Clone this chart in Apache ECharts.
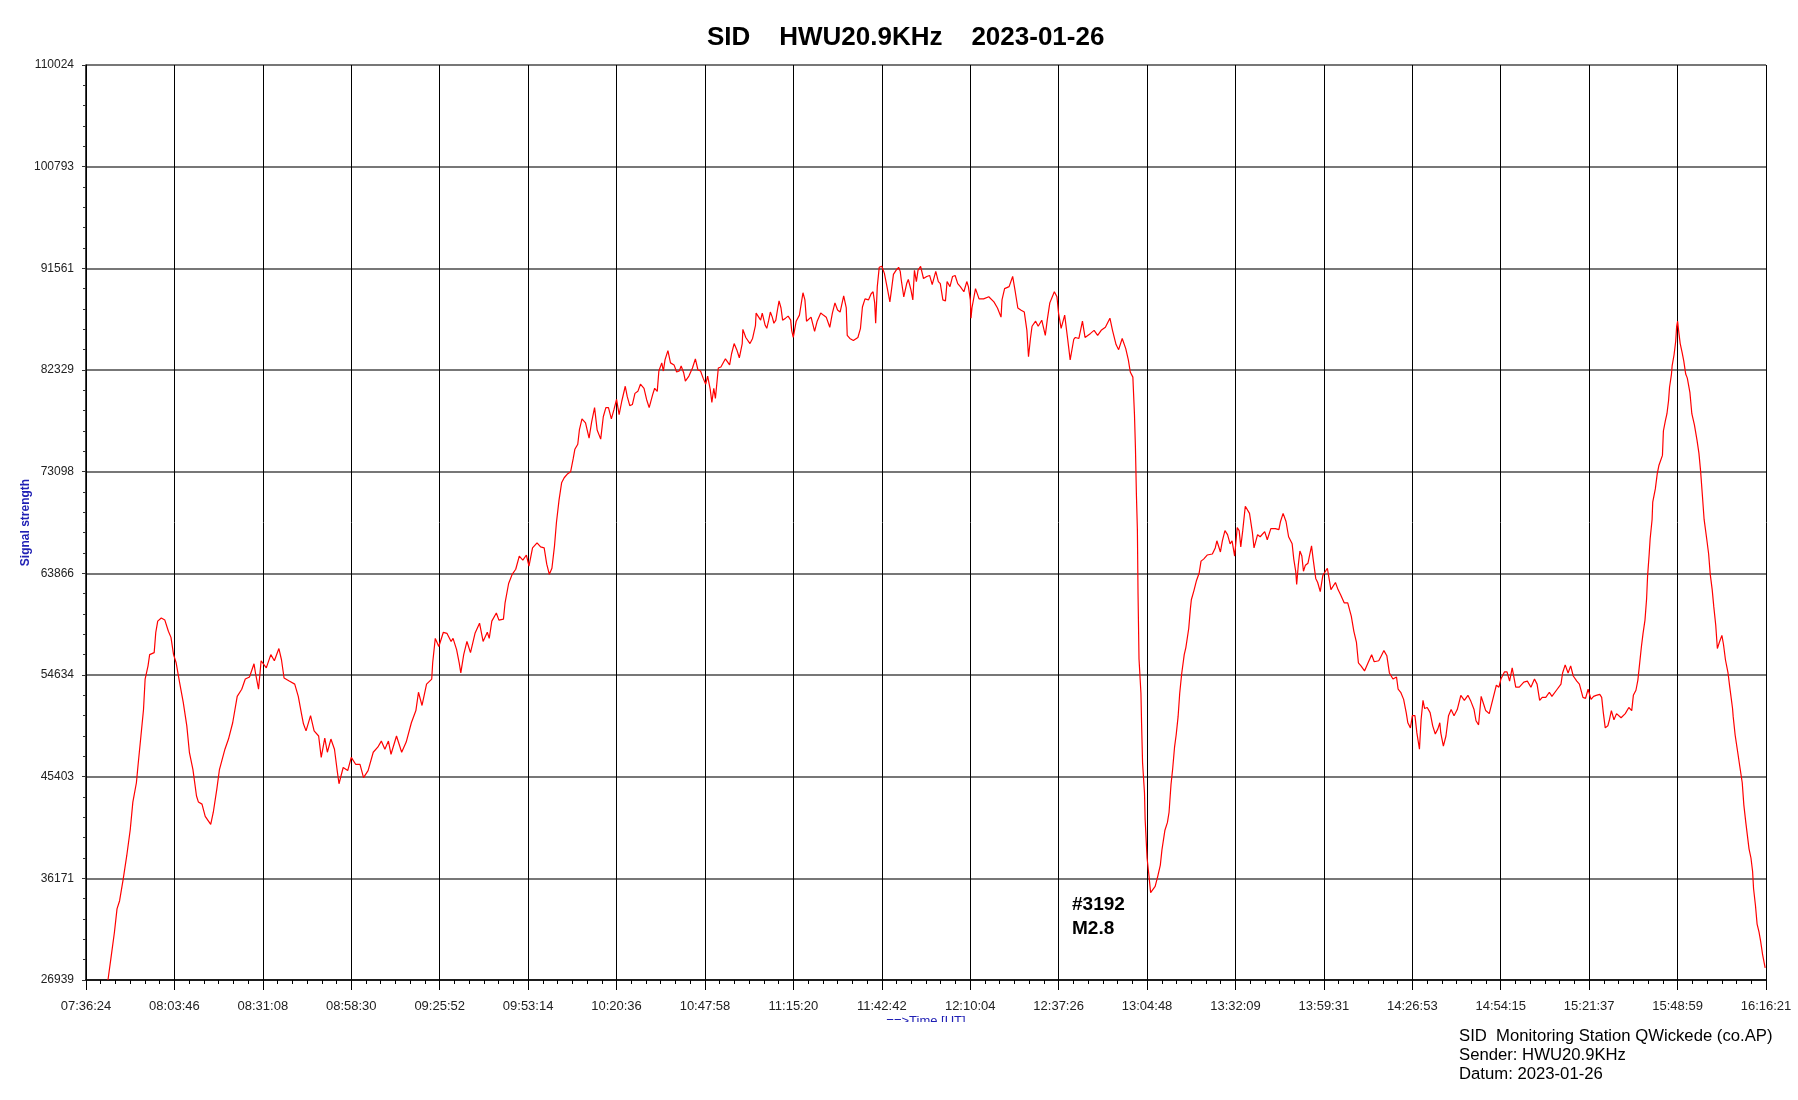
<!DOCTYPE html>
<html>
<head>
<meta charset="utf-8">
<script src="https://cdn.jsdelivr.net/npm/echarts@6/dist/echarts.min.js"></script>
<style>
html,body{margin:0;padding:0;background:#fff;}
#chart{width:1798px;height:1100px;}
</style>
</head>
<body>
<div id="chart"></div>
<script>
// Time axis tick labels (UT)
const xLabels = ['07:36:24','08:03:46','08:31:08','08:58:30','09:25:52','09:53:14','10:20:36','10:47:58','11:15:20','11:42:42','12:10:04','12:37:26','13:04:48','13:32:09','13:59:31','14:26:53','14:54:15','15:21:37','15:48:59','16:16:21'];
// Signal strength tick labels
const yLabels = ['26939','36171','45403','54634','63866','73098','82329','91561','100793','110024'];
const yMin = 26939;
const yMax = 110024;
const xStep = 27.366; // minutes between time ticks (27m22s)

// minutes after 07:36:24 UT
const timeMin = [
6.8,7.7,8.8,9.6,10.4,11.5,12.6,13.7,14.5,15.6,16.1,17.0,17.8,18.3,19.2,19.7,21.1,21.6,22.2,23.3,
24.4,25.5,26.3,27.1,27.9,29.0,30.1,31.2,32.0,33.1,34.2,34.8,35.9,36.9,38.6,39.4,40.5,41.3,43.0,44.1,
45.4,46.8,48.2,49.3,50.6,52.0,52.5,53.4,54.2,55.8,57.2,58.3,59.7,60.5,61.3,62.9,64.6,65.7,66.8,67.3,
68.1,69.5,70.6,72.0,72.8,73.9,74.7,75.8,76.9,77.7,78.3,79.6,81.0,82.1,83.5,84.8,85.9,87.3,88.9,90.3,
91.4,92.5,93.6,94.4,96.1,97.7,99.1,100.7,102.1,102.9,104.0,105.4,107.0,107.3,108.1,109.2,110.6,111.7,113.0,113.6,
114.7,115.5,116.0,116.9,117.9,119.0,120.4,121.8,122.9,124.2,124.8,125.6,127.0,127.8,129.2,129.7,130.8,131.9,133.0,134.1,
135.2,136.3,137.1,138.2,139.6,140.7,141.8,142.6,143.4,144.2,145.0,145.6,146.4,147.2,148.0,149.1,150.0,150.8,151.3,152.2,
152.7,153.5,154.6,155.7,156.5,157.4,158.2,159.3,160.1,160.9,161.7,162.6,163.4,164.2,165.0,165.8,166.9,167.5,168.3,169.1,
169.9,170.8,171.6,172.7,173.5,174.3,175.4,176.0,176.8,177.3,178.2,178.7,179.2,180.1,180.9,182.0,182.8,183.6,184.2,185.0,
185.5,186.6,187.7,188.6,189.4,190.2,191.0,191.8,192.4,193.2,193.7,194.3,194.8,195.7,196.5,197.9,199.2,199.8,200.6,201.4,
202.2,203.1,203.3,204.2,204.7,205.5,206.3,207.2,207.4,208.0,208.8,209.3,210.2,210.7,211.3,211.8,212.4,212.9,213.5,214.0,
214.5,215.1,215.6,216.5,217.3,218.1,218.4,218.9,219.8,220.8,221.4,221.9,222.5,223.0,224.4,225.5,226.3,227.4,228.2,229.1,
230.2,231.0,231.8,232.6,233.4,234.5,235.3,235.6,236.4,237.5,238.9,239.7,240.3,241.1,242.2,243.0,243.6,244.1,244.4,244.9,
245.5,246.3,247.1,247.9,248.8,249.3,249.9,250.7,251.5,252.0,252.3,253.1,254.0,254.5,255.3,255.9,256.4,257.0,257.5,258.3,
259.2,260.2,261.1,261.9,263.0,263.8,264.4,265.2,266.0,266.5,267.4,268.2,269.0,269.8,270.6,271.7,272.6,273.1,273.7,273.9,
274.2,275.3,276.4,277.8,279.4,281.0,282.1,283.2,283.5,284.3,285.7,286.8,287.6,288.4,289.3,290.4,291.2,291.7,292.3,292.8,
293.9,294.7,295.8,296.9,297.5,298.3,299.7,300.5,301.0,301.8,302.9,303.8,304.6,305.7,306.2,307.3,308.4,309.2,310.9,312.0,
313.1,314.2,315.5,316.9,317.7,318.8,319.6,320.7,321.8,322.6,323.2,324.0,324.5,324.8,325.1,325.4,325.6,325.9,326.5,326.7,
327.0,327.6,327.8,328.1,328.4,328.9,329.5,330.0,330.9,331.7,332.5,333.0,333.9,334.7,335.2,335.8,336.3,336.9,337.4,338.0,
338.5,339.1,339.9,340.4,341.3,341.8,342.1,342.9,343.7,344.5,345.1,345.9,347.0,348.6,349.5,350.0,351.1,351.7,352.5,353.3,
354.1,354.7,355.5,356.3,356.9,357.4,358.0,358.8,359.3,360.1,361.0,361.5,362.6,363.4,364.8,365.6,366.7,368.1,369.2,369.7,
370.5,371.4,372.2,373.3,373.8,374.4,374.7,375.2,375.7,376.3,376.8,377.4,378.2,379.3,379.8,380.6,381.2,382.0,382.8,384.2,
385.3,386.7,387.5,388.3,389.4,390.5,391.6,392.4,393.2,393.8,394.6,395.7,396.8,397.9,398.7,400.1,400.9,401.7,402.6,403.4,
404.5,405.6,406.1,406.9,407.8,408.6,409.1,409.9,410.5,411.3,411.9,412.7,413.2,413.8,414.3,415.1,416.0,416.8,417.6,418.4,
419.0,419.3,420.1,420.9,421.7,422.5,423.4,424.4,425.5,426.6,427.7,428.5,429.6,430.2,431.0,431.8,432.6,433.2,434.3,435.4,
436.5,437.3,437.9,439.0,439.8,440.6,441.4,442.5,443.6,445.0,446.1,447.2,448.3,449.1,449.9,450.7,451.8,452.9,453.7,455.1,
456.5,457.0,457.8,458.7,459.5,460.3,461.4,462.2,463.3,464.1,464.9,465.8,466.6,467.4,468.5,469.1,469.6,470.2,471.0,471.5,
472.1,472.9,473.7,475.1,476.4,477.5,478.4,478.9,479.7,480.3,480.8,481.4,481.9,482.5,483.0,483.3,483.8,484.1,484.7,484.9,
485.7,486.3,486.8,487.4,487.9,488.2,488.8,489.3,489.8,490.1,490.7,490.9,491.5,492.0,492.3,492.6,492.9,493.4,494.0,494.5,
495.1,495.6,496.4,497.0,497.8,498.6,499.2,499.7,500.3,500.8,501.6,502.2,502.7,503.3,503.8,504.4,504.9,505.5,506.3,506.8,
507.4,508.2,508.7,509.6,509.8,510.4,511.2,511.8,512.6,513.1,513.7,514.2,514.7,515.3,515.8,516.1,516.7,517.2,517.8,518.3,
518.9,519.7
];

// signal strength
const signal = [
26939,28878,31278,33401,34140,36079,38202,40602,43095,44849,46419,49096,51496,54266,55465,56480,56665,58511,59527,59804,
59619,58604,58050,56480,55742,53896,52142,50019,47619,46049,43649,43095,42910,41802,41064,42172,44295,46049,47896,48819,
50296,52696,53342,54266,54450,55650,54726,53342,55926,55280,56480,55926,57034,56019,54358,54081,53804,52696,50942,50203,
49557,50942,49557,49096,47157,48911,47619,48819,47896,46049,44757,46234,45957,47157,46511,46511,45311,45957,47619,48080,
48634,47896,48634,47434,49096,47619,48542,50296,51404,53065,51865,53804,54266,55742,57957,57219,58511,58419,57680,57957,
56942,55742,54819,56480,57680,56665,58419,59342,57680,58511,57957,59527,60265,59619,59711,61189,62943,63774,64235,65435,
65066,65528,64512,66174,66636,66266,66174,64697,63774,64328,66359,68482,70513,72082,72544,72913,73098,74298,75129,75591,
76883,77898,77529,76144,77622,78914,76883,76052,78083,78914,78914,77898,78729,79653,78268,79468,80853,79930,79099,79191,
80207,80391,81037,80668,79653,78914,80114,80668,80391,82237,82975,82237,83252,84083,82975,82791,82145,82237,82698,82052,
81314,81775,82514,83345,82329,82237,81591,81037,81775,80576,79376,80668,79745,82514,82606,83345,82791,83806,84729,84175,
83437,84729,86022,85283,85191,84729,85191,86391,87499,87591,86853,87499,86391,86114,86853,87591,87129,86576,86853,87776,
88607,87960,86853,87037,87222,86853,85929,85283,86760,87314,88422,89345,88699,86760,87129,85837,86760,87499,87314,87129,
86206,87499,88422,87776,87591,89068,87960,85468,85191,85006,85283,86114,88053,88791,88699,89253,89437,88422,86576,89899,
91653,91746,91099,89899,88514,89622,91007,91376,91653,91284,90545,88976,90176,90545,89622,88699,91376,90361,91376,91746,
90638,90822,90915,90084,91284,90361,90176,88699,88607,90361,89899,90822,90915,90176,89899,89437,90361,89899,88699,87037,
87960,89714,88791,88791,88976,88514,87960,87129,88699,89714,89899,90822,89437,87960,87776,87591,85929,83529,85191,86299,
86760,86299,86853,85468,86853,88422,89437,88976,87499,86114,87314,85191,83252,85099,85283,85191,86760,85283,85652,85929,
85468,85929,86206,87037,85929,84637,84175,85191,84268,83252,82145,81683,78268,75221,70975,67820,62019,56111,52973,50203,
46695,43926,41525,39771,38017,36633,34878,34786,35432,36356,37371,38756,40510,41248,42172,44664,46049,48080,49188,50850,
52973,54726,56480,57127,58881,60635,61466,62296,63220,63866,64974,65158,65528,65620,66174,66820,65805,66820,67743,67374,
66543,66820,65435,68020,67743,66266,67743,69959,69959,69313,67559,66174,67374,67189,67651,66912,67928,67928,67836,68574,
69313,68574,67189,66543,65158,64051,62850,64605,65897,65435,64051,64605,64789,66359,65158,63404,63035,62204,63681,64328,
62389,63035,62389,61927,61189,61189,59988,58604,57588,55742,55465,55003,55742,56480,55834,55926,56388,56850,56388,54819,
54266,54450,53342,53065,52419,51219,50296,49834,50942,50942,49373,47896,50573,52327,51588,51681,51219,50019,49280,49742,
50296,49373,48173,49096,50942,51496,50942,51496,52788,52327,52788,52327,51496,50480,50111,52696,51958,51404,51127,52419,
53712,53527,54266,54911,54911,54081,55280,53527,53527,53989,54081,53527,54266,53804,52327,52604,52604,53065,52696,53250,
53804,54819,55557,54819,55465,54543,54081,53804,52604,52511,53342,52419,52696,52788,52880,52604,51219,49834,50019,50573,
51404,50573,51127,50757,51127,51681,51404,52788,53250,54173,55557,57219,58419,59619,61558,63589,65620,67005,68759,70328,
71528,72913,73652,73744,74575,76791,77714,78360,79560,80760,81960,82698,83714,84914,86299,86760,85929,84729,83898,83160,
81960,81591,80299,78360,77345,75960,74760,73190,70790,68759,67005,65620,63774,62389,60819,59157,57034,57588,58234,57404,
56019,54819,53619,51588,50850,49188,47619,46419,44849,42818,41248,40048,38848,38017,36817,35248,33678,32016,31278,30447,
29247,28047
];

const seriesData = timeMin.map((t, i) => [t, signal[i]]);
const xMax = xStep * (xLabels.length - 1);
const font = '"Liberation Sans", Arial, sans-serif';

const chart = echarts.init(document.getElementById('chart'), null, {renderer: 'canvas'});
chart.setOption({
  animation: false,
  backgroundColor: '#ffffff',
  title: {
    text: 'SID    HWU20.9KHz    2023-01-26',
    left: 702,
    top: 20,
    textStyle: {fontFamily: font, fontSize: 26, fontWeight: 'bold', color: '#000'}
  },
  grid: {left: 86, right: 32, top: 65, bottom: 120, containLabel: false},
  xAxis: {
    type: 'value',
    min: 0,
    max: xMax,
    interval: xStep,
    name: '==>Time [UT]',
    nameLocation: 'middle',
    nameGap: 35,
    nameMoveOverlap: false,
    nameTextStyle: {color: '#1f1fb4', fontSize: 13, fontFamily: font},
    axisLine: {show: true, onZero: false, lineStyle: {color: '#000', width: 1.5}},
    axisTick: {show: true, length: 10, lineStyle: {color: '#000', width: 1}},
    minorTick: {show: true, splitNumber: 6, length: 4, lineStyle: {color: '#000', width: 1}},
    axisLabel: {
      margin: 20,
      fontSize: 13,
      fontFamily: font,
      color: '#222',
      formatter: v => { const i = Math.round(v / xStep); return xLabels[i] !== undefined ? xLabels[i] : ''; }
    },
    splitLine: {show: true, lineStyle: {color: '#000', width: 1}}
  },
  yAxis: [
    {
      type: 'value',
      min: yMin,
      max: yMax,
      show: false,
      splitLine: {show: false}
    },
    {
      type: 'value',
      min: 0,
      max: yLabels.length - 1,
      interval: 1,
      position: 'left',
      name: 'Signal strength',
      nameLocation: 'middle',
      nameGap: 54,
      nameRotate: 90,
      nameMoveOverlap: false,
      nameTextStyle: {color: '#1f1fb4', fontSize: 12, fontWeight: 'bold', fontFamily: font},
      axisLine: {show: true, lineStyle: {color: '#000', width: 1.5}},
      axisTick: {show: true, length: 4, lineStyle: {color: '#333'}},
      minorTick: {show: true, splitNumber: 5, length: 3, lineStyle: {color: '#333'}},
      axisLabel: {
        margin: 12,
        fontSize: 12,
        fontFamily: font,
        color: '#222',
        formatter: v => yLabels[Math.round(v)] || ''
      },
      splitLine: {show: true, lineStyle: {color: '#4a4a4a', width: 1.5}}
    }
  ],
  series: [{
    type: 'line',
    yAxisIndex: 0,
    data: seriesData,
    showSymbol: false,
    symbol: 'none',
    clip: true,
    lineStyle: {color: '#ff0000', width: 1.2},
    z: 5
  }],
  graphic: [
    {type: 'rect', left: 860, top: 1022, shape: {width: 140, height: 14}, style: {fill: '#fff'}, z: 100},
    {type: 'text', left: 1072, top: 895, style: {text: '#3192', font: 'bold 19px ' + font, fill: '#000'}},
    {type: 'text', left: 1072, top: 919, style: {text: 'M2.8', font: 'bold 19px ' + font, fill: '#000'}},
    {type: 'text', left: 1459, top: 1028, style: {text: 'SID  Monitoring Station QWickede (co.AP)', font: '16.7px ' + font, fill: '#000'}},
    {type: 'text', left: 1459, top: 1047, style: {text: 'Sender: HWU20.9KHz', font: '16.7px ' + font, fill: '#000'}},
    {type: 'text', left: 1459, top: 1066, style: {text: 'Datum: 2023-01-26', font: '16.7px ' + font, fill: '#000'}}
  ]
});
</script>
</body>
</html>
